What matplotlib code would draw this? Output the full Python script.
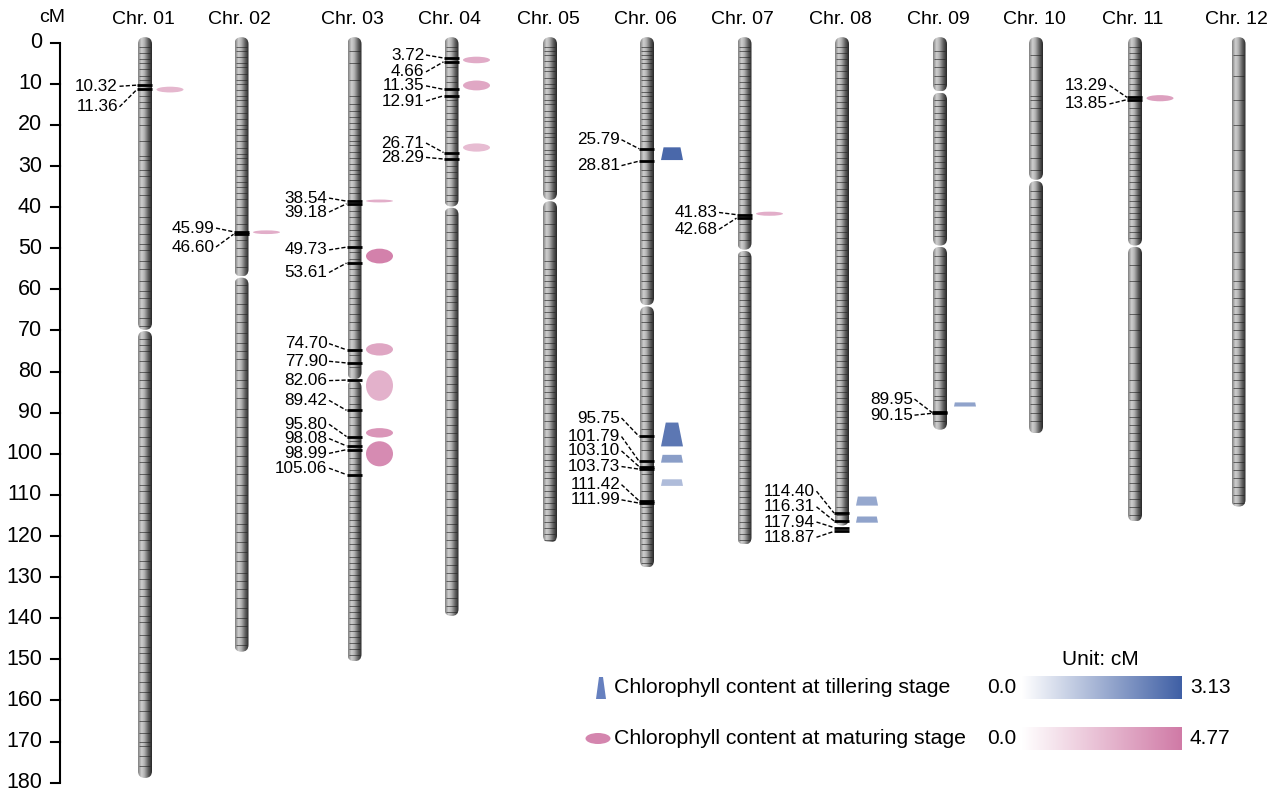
import numpy as np
import matplotlib
matplotlib.use('Agg')
import matplotlib.pyplot as plt
from matplotlib.patches import FancyBboxPatch, Ellipse, Polygon
from matplotlib.colors import LinearSegmentedColormap

plt.rcParams['font.family'] = ['Liberation Sans', 'DejaVu Sans']

# ---- chromosomes ----
chrom_names = ['Chr. 01', 'Chr. 02', 'Chr. 03', 'Chr. 04', 'Chr. 05', 'Chr. 06',
               'Chr. 07', 'Chr. 08', 'Chr. 09', 'Chr. 10', 'Chr. 11', 'Chr. 12']
chrom_len = [179.0, 148.3, 150.6, 139.6, 121.7, 127.8, 122.2, 117.6, 94.3, 95.2, 116.6, 113.0]
chrom_breaks = [[70], [57], [82], [40], [38.4], [64], [50.5], [], [12, 49.5], [33.5], [49.5], []]

markers_01 = [1, 2.5, 4, 5, 6.5, 8, 9, 13, 14.5, 16, 18, 20, 24, 27.5, 28.5, 31, 32.5, 35, 37,
              40, 42.5, 44, 46.5, 49, 50.5, 53, 55, 58, 60.5, 62, 64.5, 67, 69, 72, 73.5, 75,
              77.5, 80, 82, 84, 86.5, 89, 91, 93.5, 96, 98, 100.5, 102, 105, 107.5, 109, 112,
              114.5, 116, 119, 121, 123.5, 126, 128, 130.5, 133, 134.5, 137, 139.5, 141, 144,
              147, 148.5, 151, 153, 155.5, 158, 160, 162.5, 165, 168, 170, 171, 173.5, 176]
markers_02 = [1, 2, 3.5, 5, 6, 7.5, 9, 10, 11.5, 13, 14, 15.5, 17, 18.5, 20, 21, 22.5, 24,
              25.5, 27, 28, 29.5, 31, 32.5, 34, 35, 36.5, 38, 40, 42, 44, 48, 50, 52, 54.5,
              59, 61, 63.5, 66, 68, 70.5, 73, 75, 77, 79.5, 82, 84, 86.5, 89, 91, 93.5, 96,
              98, 100.5, 103, 105, 107.5, 110, 112, 114.5, 117, 119, 121.5, 124, 126, 129,
              131, 133, 135, 137.5, 140, 142, 144.5, 146.5]
markers_03 = [2, 5, 9, 13, 15, 16.5, 18, 19.5, 21, 22.5, 24, 25, 26.5, 28, 29.5, 31, 32, 33.5,
              35, 36.5, 41, 42.5, 44, 45.5, 47, 48, 51, 52.5, 55, 56.5, 58, 60, 62, 63.5, 66,
              68, 70, 72, 76, 79, 84, 86, 88, 91, 93, 97, 101, 102.5, 104, 107, 108.5, 110,
              111.5, 113, 114.5, 116, 117.5, 119, 120.5, 122, 123.5, 125, 126.5, 128, 129.5,
              131, 132.5, 134, 135.5, 137, 138.5, 140, 141.5, 143, 144.5, 146, 147.5, 149]
markers_04 = [1, 2, 6, 8, 9.5, 14, 15.5, 17, 18.5, 20, 21.5, 23, 24.5, 30, 31.5, 33, 35, 37,
              38.5, 42, 44, 46, 48, 50, 52, 54, 56, 58, 60, 61.5, 63, 65, 67, 69, 71, 73,
              75, 77, 79, 81, 83, 85, 87, 89, 91, 93, 95, 97, 99, 101, 103, 105, 107, 109,
              111, 113, 115, 117, 119, 121, 123, 125, 127, 129, 131, 133, 135, 137, 138.5]
markers_05 = [1, 2, 3, 4.5, 6, 7, 8.5, 10, 11, 12.5, 14, 15, 16.5, 18, 19, 20.5, 22, 23, 24.5,
              26, 27, 28.5, 30, 31, 32.5, 34, 36, 41, 44, 47, 50, 53, 55, 56.5, 58, 59.5,
              61, 62.5, 64, 65.5, 67, 68.5, 70, 71.5, 73, 74.5, 76, 77.5, 79, 80.5, 82, 83.5,
              85, 86.5, 88, 90, 92, 94, 96, 98, 100, 101.5, 103, 104.5, 106, 107.5, 109,
              110.5, 112, 113.5, 115, 116.5, 118, 119.5, 121]
markers_06 = [1, 2, 3, 4, 5, 6.5, 8, 9, 10.5, 12, 13, 14.5, 16, 17, 18.5, 20, 21, 22.5, 24,
              31, 32.5, 34, 36, 38, 40, 42, 44, 46, 48, 50, 52, 54, 56, 58, 60, 62, 66, 68,
              70, 72, 74, 76, 78, 80, 82, 84, 86, 88, 90, 92, 94, 97, 99, 105, 107, 109, 113,
              114.5, 116, 117.5, 119, 120.5, 122, 123.5, 125, 126.5]
markers_07 = [1, 2, 3.5, 5, 6.5, 8, 9.5, 11, 12.5, 14, 15.5, 17, 18.5, 20, 21.5, 23, 24.5, 26,
              27.5, 29, 30.5, 32, 33.5, 35, 36.5, 38, 39.5, 44, 46, 48, 52, 53.5, 55, 56.5,
              58, 59.5, 61, 62.5, 64, 65.5, 67, 68.5, 70, 71.5, 73, 74.5, 76, 77.5, 79, 80.5,
              82, 83.5, 85, 86.5, 88, 89.5, 91, 92.5, 94, 95.5, 97, 98.5, 100, 101.5, 103,
              104.5, 106, 107.5, 109, 110.5, 112, 113.5, 115, 116.5, 118, 119.5, 121]
markers_08 = [1, 2.5, 4, 5.5, 7, 8.5, 10, 11.5, 13, 14.5, 16, 17.5, 19, 20.5, 22, 23.5, 25, 26.5,
              28, 29.5, 31, 32.5, 34, 35.5, 37, 38.5, 40, 41.5, 43, 44.5, 46, 47.5, 49, 50.5,
              52, 53.5, 55, 56.5, 58, 59.5, 61, 62.5, 64, 65.5, 67, 68.5, 70, 71.5, 73, 74.5,
              76, 77.5, 79, 80.5, 82, 83.5, 85, 86.5, 88, 89.5, 91, 92.5, 94, 95.5, 97, 98.5,
              100, 101.5, 103, 104.5, 106, 107.5, 109, 110.5, 113, 115]
markers_09 = [2, 4, 6, 8, 10, 14, 15.5, 17, 18.5, 20, 21.5, 23, 24.5, 26, 27.5, 29, 30.5, 32,
              33.5, 35, 36.5, 38, 39.5, 41, 42.5, 44, 45.5, 47, 52, 54, 56, 58, 60, 62, 64,
              66, 68, 70, 72, 74, 76, 78, 80, 82, 84, 86, 87, 92]
markers_10 = [3, 6, 9, 13, 14, 16, 19, 22, 25, 28, 31, 36, 38, 40, 42, 44, 46, 48, 50, 52, 54,
              56, 58, 60, 62, 64, 66, 68, 70, 72, 74, 76, 78, 80, 82, 84, 86, 88, 90, 92]
markers_11 = [1, 2.5, 4, 5.5, 7, 8.5, 10, 11.5, 16, 17.5, 19, 20.5, 22, 23.5, 25, 26.5, 28,
              29.5, 31, 32.5, 34, 35.5, 37, 38.5, 40, 41.5, 43, 44.5, 46, 47.5, 54, 58, 62,
              66, 70, 74, 78, 82, 85, 87, 89, 91, 93, 95, 97, 99, 101, 103, 105, 107, 109,
              111, 113, 115]
markers_12 = [3, 8, 14, 20, 26, 31, 36, 41, 46, 51, 55, 58, 60, 62, 64, 66, 68, 70, 72, 74,
              76, 78, 80, 82, 84, 86, 88, 90, 92, 94, 96, 98, 100, 102, 104, 106, 108, 110, 112]
chrom_markers = [markers_01, markers_02, markers_03, markers_04, markers_05, markers_06,
                 markers_07, markers_08, markers_09, markers_10, markers_11, markers_12]

# ---- flanking markers of QTL (with label position) ----
flank_chrom = [1, 1, 2, 2, 3, 3, 3, 3, 3, 3, 3, 3, 3, 3, 3, 3, 4, 4, 4, 4, 4, 4,
               6, 6, 6, 6, 6, 6, 6, 6, 7, 7, 8, 8, 8, 8, 9, 9, 11, 11]
flank_pos = [10.32, 11.36, 45.99, 46.60, 38.54, 39.18, 49.73, 53.61, 74.70, 77.90, 82.06,
             89.42, 95.80, 98.08, 98.99, 105.06, 3.72, 4.66, 11.35, 12.91, 26.71, 28.29,
             25.79, 28.81, 95.75, 101.79, 103.10, 103.73, 111.42, 111.99, 41.83, 42.68,
             114.40, 116.31, 117.94, 118.87, 89.95, 90.15, 13.29, 13.85]
flank_label_y = [10.6, 15.6, 45.1, 49.7, 37.8, 41.2, 50.4, 55.9, 73.2, 77.5, 82.2, 87.0,
                 92.8, 96.3, 99.9, 103.5, 3.0, 7.1, 10.5, 14.2, 24.4, 27.9,
                 23.6, 29.9, 91.3, 95.8, 99.3, 103.1, 107.5, 111.2, 41.3, 45.4,
                 109.1, 112.9, 116.6, 120.3, 86.7, 90.6, 10.4, 14.9]

# ---- QTL ----  M = maturing stage, T = tillering stage
qtl_chrom = [1, 2, 3, 3, 3, 3, 3, 3, 4, 4, 4, 7, 11, 6, 6, 6, 6, 8, 8, 9]
qtl_stage = ['M'] * 13 + ['T'] * 7
qtl_center = [11.4, 46.1, 38.5, 51.9, 74.6, 83.4, 94.9, 100.0, 4.2, 10.4, 25.5, 41.6, 13.5,
              27.0, 95.3, 101.2, 107.0, 111.5, 116.0, 88.0]
qtl_span = [1.4, 0.9, 0.7, 3.6, 3.0, 7.4, 2.3, 6.1, 1.6, 2.4, 2.0, 1.0, 1.5,
            3.1, 5.8, 1.9, 1.6, 2.2, 1.5, 1.0]
qtl_value = [2.6, 2.9, 2.9, 4.5, 3.2, 2.8, 3.8, 4.15, 3.0, 3.15, 2.4, 2.9, 3.4,
             2.94, 2.65, 1.9, 1.3, 1.7, 1.8, 1.8]
til_max = 3.13
mat_max = 4.77

# layout (x in pixels, y in cM)
chrom_x = [145, 241.5, 354.5, 451.5, 550, 647, 744.5, 842, 940, 1036, 1135, 1238.5]
PX = 4.111         # pixels per cM
Y0 = 42.7          # pixel row of 0 cM
W = 14


def py(p):
    return (p - Y0) / PX


body_cmap = LinearSegmentedColormap.from_list(
    'body', [(0, '#7c7c7c'), (0.25, '#cfcfcf'), (0.45, '#b4b4b4'), (0.75, '#5c5c5c'), (1, '#262626')])
til_cmap = LinearSegmentedColormap.from_list('til', ['#ffffff', '#3f5fa5'])
mat_cmap = LinearSegmentedColormap.from_list('mat', ['#ffffff', '#d07aa6'])
grad = np.linspace(0, 1, 256).reshape(1, -1)

fig = plt.figure(figsize=(12.8, 7.96), dpi=100)
ax = fig.add_axes([0, 0, 1, 1])
ax.axis('off')

# y axis
ax.plot([60, 60], [0, 180], color='black', lw=1.5, solid_capstyle='butt')
for t in range(0, 181, 10):
    ax.plot([51, 60], [t, t], color='black', lw=1.5)
    ax.text(42, t, str(t), ha='right', va='center', fontsize=15.5)
ax.text(52, py(18), 'cM', ha='center', va='center', fontsize=14)


def draw_segment(x, y0, y1):
    patch = FancyBboxPatch((x - W / 2, y0), W, y1 - y0,
                           boxstyle='round,pad=0,rounding_size=6.9',
                           mutation_aspect=1 / PX, fc='none', ec='none')
    ax.add_patch(patch)
    im = ax.imshow(grad, cmap=body_cmap, extent=[x - W / 2, x + W / 2, y1, y0],
                   aspect='auto', interpolation='bilinear', zorder=2)
    im.set_clip_path(patch)


for i, name in enumerate(chrom_names):
    x = chrom_x[i]
    ax.text(x - 2, py(20), name, ha='center', va='center', fontsize=14)
    edges = [-1.5] + chrom_breaks[i] + [chrom_len[i]]
    for a, b in zip(edges[:-1], edges[1:]):
        draw_segment(x, a + 0.15, b - 0.15)
    ax.hlines(chrom_markers[i], x - W / 2 + 1, x + W / 2 - 2, color='#1e1e1e',
              lw=0.7, alpha=0.6, zorder=3)

# flanking markers, labels, leaders
for c, m, ly in zip(flank_chrom, flank_pos, flank_label_y):
    x = chrom_x[c - 1]
    ax.hlines(m, x - 8, x + 7, color='black', lw=2.0, zorder=4)
    ax.plot([x - 25.5, x - 8], [ly, m], color='black', lw=1.0, ls=(0, (3, 1.5)), zorder=4)
    ax.text(x - 27, ly, f'{m:.2f}', ha='right', va='center', fontsize=12.3, zorder=5)

# QTL shapes
for c, s, yc, sp, v in zip(qtl_chrom, qtl_stage, qtl_center, qtl_span, qtl_value):
    x = chrom_x[c - 1] + 25
    if s == 'M':
        ax.add_patch(Ellipse((x, yc), 27, sp, fc=mat_cmap(v / mat_max), ec='none', zorder=3))
    else:
        bot = 22
        top = bot - 0.4 * sp * PX
        ax.add_patch(Polygon([(x - top / 2, yc - sp / 2), (x + top / 2, yc - sp / 2),
                              (x + bot / 2, yc + sp / 2), (x - bot / 2, yc + sp / 2)],
                             closed=True, fc=til_cmap(v / til_max), ec='none', zorder=3))

# legend
ax.text(1100, py(660), 'Unit: cM', ha='center', va='center', fontsize=15)
ax.add_patch(Polygon([(599, py(677)), (603, py(677)), (606, py(699)), (596, py(699))],
                     closed=True, fc='#6680bf', ec='none'))
ax.add_patch(Ellipse((598, py(738.5)), 25, 11 / PX, fc='#d485ae', ec='none'))
ax.text(614, py(688), 'Chlorophyll content at tillering stage', ha='left', va='center', fontsize=15.3)
ax.text(614, py(738.5), 'Chlorophyll content at maturing stage', ha='left', va='center', fontsize=15.3)
for row_y, cmap, vmax in [(688, til_cmap, til_max), (738.5, mat_cmap, mat_max)]:
    ax.text(1016, py(row_y), '0.0', ha='right', va='center', fontsize=15)
    ax.imshow(grad, cmap=cmap, extent=[1022, 1182, py(row_y + 11.5), py(row_y - 11.5)],
              aspect='auto', interpolation='bilinear', zorder=2)
    ax.text(1190, py(row_y), f'{vmax:.2f}', ha='left', va='center', fontsize=15)

ax.set_xlim(0, 1280)
ax.set_ylim(py(796), py(0))

fig.savefig('out.png', dpi=100)
